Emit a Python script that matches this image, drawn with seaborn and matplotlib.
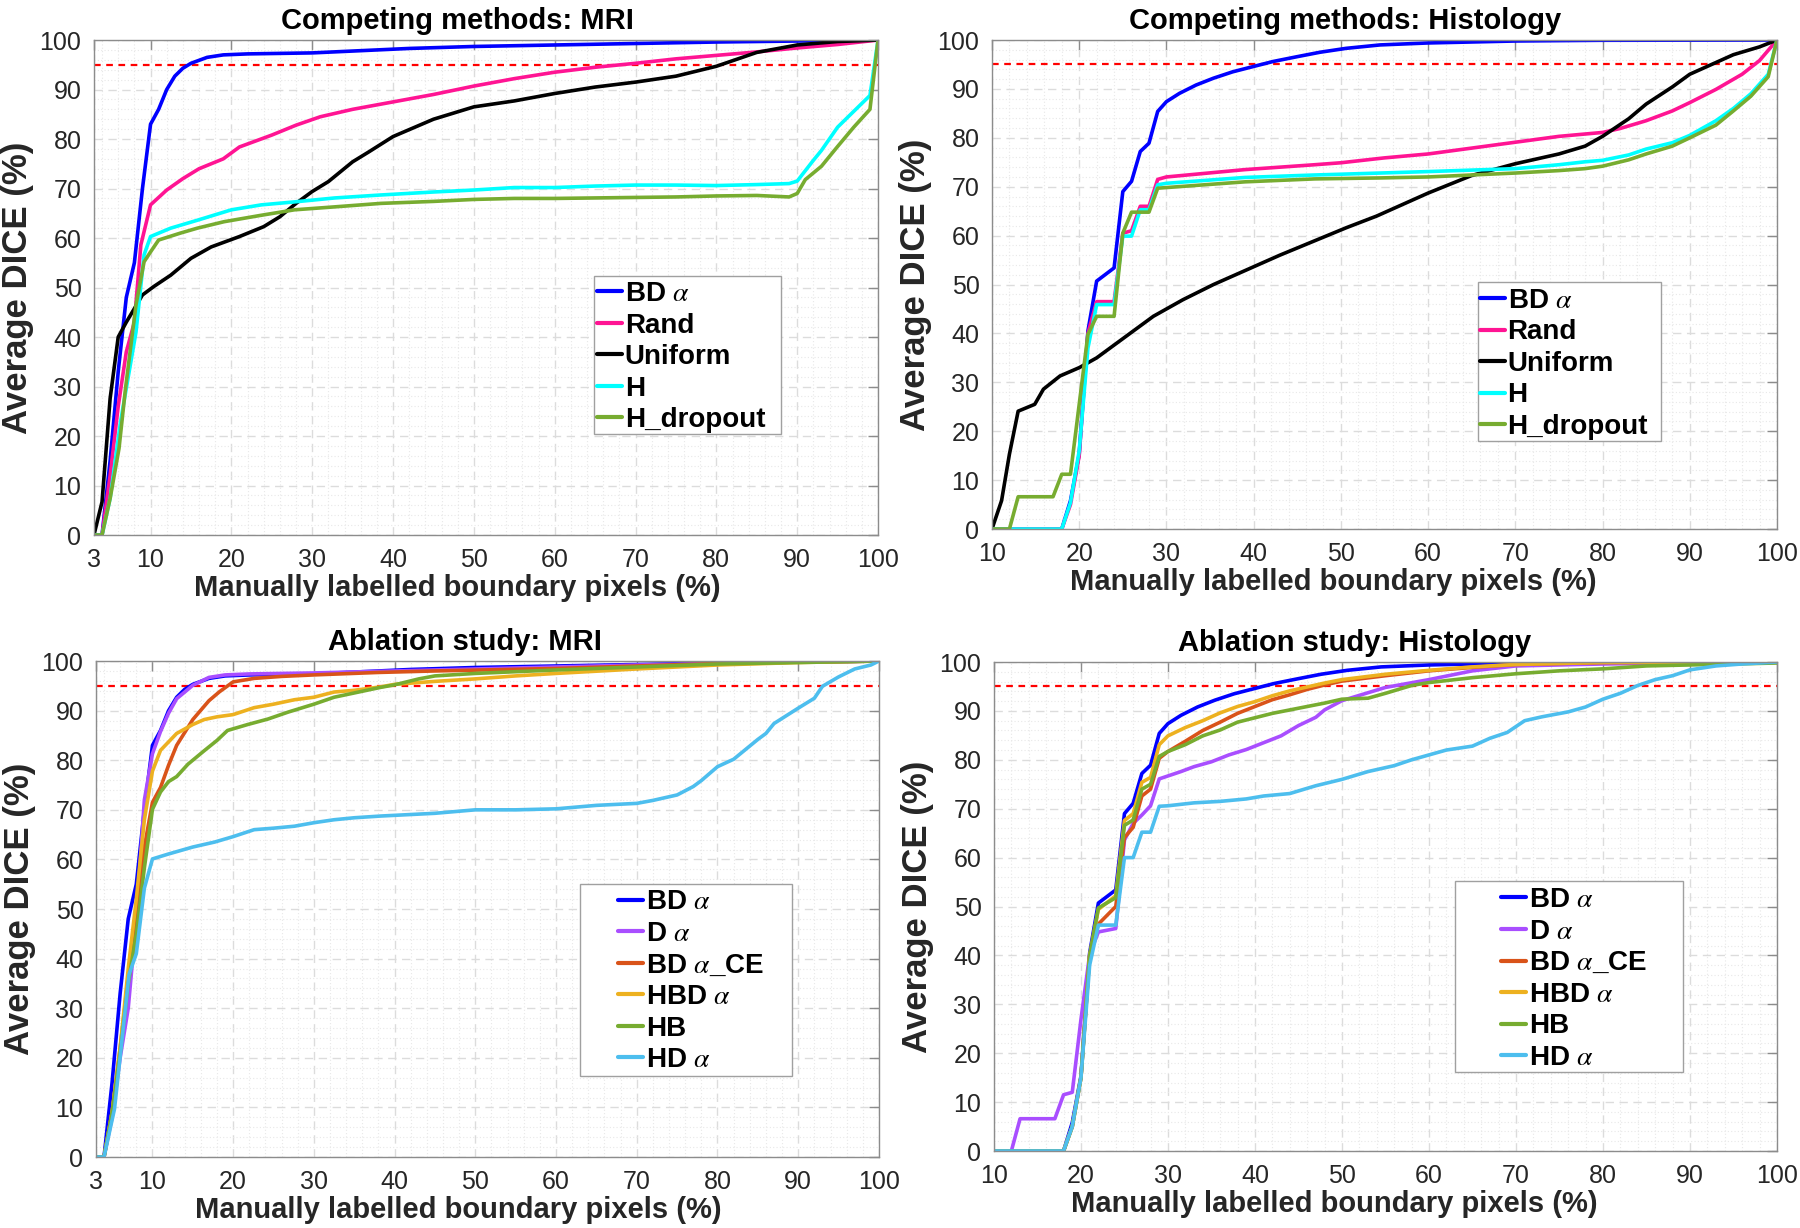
import numpy as np
import pandas as pd
import seaborn as sns
import matplotlib
matplotlib.use('Agg')
import matplotlib.pyplot as plt
from matplotlib.lines import Line2D
from matplotlib.patches import Rectangle
from matplotlib.ticker import MultipleLocator
from matplotlib import font_manager

# ---------------- data ----------------
# Competing methods, MRI
bd_mri_x = [3, 4, 5, 6, 7, 8, 9, 10, 11, 12, 13, 14, 15, 16, 17, 19, 22, 26, 30, 34, 38, 42, 50, 60, 70, 80, 90, 100]
bd_mri_y = [0, 0, 15, 33, 48, 55, 70, 83, 86, 90, 92.7, 94.3, 95.3, 95.9, 96.5, 97, 97.2, 97.3, 97.4, 97.7, 98, 98.3, 98.7, 99, 99.3, 99.6, 99.8, 100]
rand_mri_x = [3, 4, 5, 6, 7, 8, 8.8, 10, 12, 14, 16, 19, 21, 25, 28, 31, 35, 40, 45, 50, 55, 60, 65, 70, 75, 80, 85, 90, 95, 100]
rand_mri_y = [0, 0, 12, 26, 37, 43, 58.6, 66.7, 69.7, 72, 74, 76, 78.4, 80.8, 82.8, 84.5, 86, 87.5, 89, 90.7, 92.2, 93.5, 94.5, 95.3, 96.2, 96.9, 97.6, 98.4, 99.1, 100]
unif_mri_x = [3, 4, 5, 6, 7, 9, 10.4, 12.5, 15, 17.5, 21, 24, 26, 28, 30, 32, 35, 37, 40, 45, 50, 55, 60, 65, 70, 75, 80, 85, 90, 95, 100]
unif_mri_y = [0, 6.7, 27.6, 40, 43, 48.5, 50.2, 52.5, 55.9, 58.2, 60.3, 62.3, 64.3, 67, 69.4, 71.4, 75.4, 77.4, 80.5, 84, 86.5, 87.7, 89.2, 90.5, 91.5, 92.7, 94.7, 97.5, 99, 99.7, 100]
h_mri_x = [3, 4, 5, 6.3, 8.2, 9.2, 10, 12.5, 15.8, 20, 23.7, 27.8, 32.8, 38.5, 45, 50, 55, 60, 65, 70, 75, 80, 85, 89, 90, 91, 92, 93, 95, 97, 99, 100]
h_mri_y = [0, 0, 7.4, 23, 41, 56.6, 60.3, 62, 63.6, 65.7, 66.7, 67.3, 68.1, 68.7, 69.3, 69.7, 70.2, 70.2, 70.5, 70.7, 70.7, 70.6, 70.8, 71, 71.5, 73.6, 75.7, 77.7, 82.4, 85.6, 88.8, 100]
hdrop_mri_x = [3, 4, 5, 6.1, 6.9, 8.2, 9.2, 10, 11, 13.7, 15.8, 19.1, 23.7, 27.8, 32.8, 38.5, 45, 50, 55, 60, 65, 70, 75, 80, 85, 89, 90, 91, 93, 95, 97, 99, 100]
hdrop_mri_y = [0, 0, 7.4, 17.5, 29.6, 46.5, 55.2, 57.2, 59.6, 61, 62, 63.3, 64.6, 65.7, 66.3, 67, 67.4, 67.8, 68, 68, 68.1, 68.2, 68.3, 68.5, 68.6, 68.3, 69, 71.8, 74.5, 78.5, 82.4, 86, 100]

# Ablation study, MRI (BD alpha shared with competing MRI)
da_mri_x = [3, 4, 5, 6, 7, 8, 9, 10, 11, 12, 13, 15, 17, 19, 22, 26, 30, 35, 40, 50, 60, 70, 80, 90, 100]
da_mri_y = [0, 0, 8, 20, 30, 48, 72, 81.3, 85.8, 89.5, 92.4, 95.1, 96.7, 97.2, 97.4, 97.5, 97.6, 97.8, 98, 98.4, 98.8, 99.2, 99.5, 99.8, 100]
bdce_mri_x = [3, 4, 5, 6, 7, 8, 9, 10, 11, 12, 13, 15, 17, 18.3, 20, 22.6, 26, 30, 38, 45, 60, 70, 80, 90, 100]
bdce_mri_y = [0, 0, 9, 22, 36, 48, 62.5, 71.5, 74.5, 79, 83, 88.2, 92, 93.8, 95.8, 96.5, 96.9, 97.2, 97.7, 98, 98.5, 99, 99.5, 99.8, 100]
hbd_mri_x = [3, 4, 5, 6, 7, 8, 9, 10, 11, 13, 15, 16.4, 18, 20, 22.6, 25, 27.6, 30, 32.5, 35, 38.3, 40, 45, 50, 55, 60, 70, 80, 90, 100]
hbd_mri_y = [0, 0, 9, 22, 38, 52, 68, 77.8, 82, 85.4, 87.2, 88.2, 88.75, 89.2, 90.6, 91.3, 92.2, 92.7, 93.75, 94.1, 94.8, 95.3, 95.9, 96.4, 97, 97.5, 98.4, 99.2, 99.7, 100]
hb_mri_x = [3, 4, 5, 6, 7, 8, 9, 10, 11, 12, 13, 14.4, 16.4, 18, 19.3, 21.8, 24.3, 26.8, 30, 32.5, 38.3, 40, 43, 45, 50, 60, 70, 80, 90, 100]
hb_mri_y = [0, 0, 9, 21, 35, 45, 58.3, 70.1, 73.6, 75.7, 76.7, 79.2, 81.9, 84, 86, 87.2, 88.3, 89.7, 91.3, 92.7, 94.7, 95.2, 96.4, 97, 97.5, 98.2, 98.8, 99.4, 99.7, 100]
hda_mri_x = [3, 4, 5.3, 7.1, 8, 9, 10, 12, 15, 17.7, 20, 22.6, 25, 27.6, 30, 32.5, 35, 38.3, 45, 50, 55, 60, 65, 70, 72, 75, 77, 78, 80, 82, 85, 86, 87, 90, 92, 93, 95, 97, 99, 100]
hda_mri_y = [0, 0, 9.7, 36.8, 41, 54.2, 60.1, 61.1, 62.5, 63.5, 64.6, 66, 66.3, 66.7, 67.4, 68, 68.4, 68.75, 69.3, 70, 70, 70.2, 70.9, 71.3, 71.9, 73, 74.7, 75.9, 78.7, 80.2, 84.2, 85.4, 87.4, 90.5, 92.5, 94.9, 96.8, 98.4, 99.2, 100]

# Competing methods, Histology
bd_his_x = [10, 18, 19, 20, 21, 22, 24, 25, 26, 27, 28, 29, 30, 31.5, 33.4, 35.4, 37.6, 40, 42.2, 45, 47.6, 50.6, 54.5, 60, 70, 80, 100]
bd_his_y = [0, 0, 5.8, 15.3, 40.5, 50.7, 53.4, 69, 71.1, 77.2, 78.9, 85.4, 87.4, 89.1, 90.8, 92.2, 93.5, 94.6, 95.6, 96.6, 97.5, 98.3, 99, 99.4, 99.8, 99.95, 100]
rand_his_x = [10, 18, 19, 20, 21, 22, 24, 25, 26, 27, 28, 29, 30, 39, 47, 50, 55, 60, 65, 70, 75, 80, 82, 85, 88, 90, 93, 96, 98, 100]
rand_his_y = [0, 0, 5, 15, 40, 46.5, 46.5, 60.5, 61, 66, 66, 71.5, 72, 73.5, 74.5, 74.9, 75.9, 76.7, 77.9, 79.1, 80.3, 81.1, 81.9, 83.5, 85.5, 87.2, 89.9, 93, 95.8, 100]
unif_his_x = [10, 11.1, 12, 13, 14.9, 15.9, 17.8, 20, 22, 24.6, 28.5, 31.9, 35.4, 39.2, 43, 46.8, 50.6, 54.1, 60, 65, 70, 75, 78, 80, 83, 85, 88, 90, 93, 95, 98, 100]
unif_his_y = [0, 5.8, 15.3, 24.1, 25.5, 28.6, 31.3, 33, 35, 38.4, 43.5, 46.9, 50, 53, 56, 58.8, 61.6, 64, 68.7, 72.3, 74.7, 76.7, 78.3, 80.3, 83.9, 86.9, 90.4, 93, 95.4, 97, 98.6, 100]
h_his_x = [10, 18, 19, 20, 21, 22, 24, 25, 26, 27, 28, 29, 30, 39, 47, 54.5, 60, 65, 70, 75, 78, 80, 83, 85, 88, 90, 93, 95, 97, 99, 100]
h_his_y = [0, 0, 5.4, 16, 37, 45.9, 45.9, 59.9, 59.9, 65.3, 65.3, 70.4, 70.7, 71.9, 72.4, 72.8, 73.1, 73.4, 73.7, 74.5, 75.1, 75.4, 76.5, 77.7, 79, 80.5, 83.5, 86, 89, 93, 100]
hdrop_his_x = [10, 12, 13, 17, 18, 19, 21, 22, 24, 25, 26, 28, 29, 39, 47, 54.5, 60, 65, 70, 75, 78, 80, 83, 85, 88, 90, 93, 95, 97, 99, 100]
hdrop_his_y = [0, 0, 6.6, 6.6, 11.2, 11.2, 39.8, 43.5, 43.5, 60.5, 64.8, 64.8, 69.7, 71, 71.6, 71.8, 72, 72.4, 72.8, 73.3, 73.7, 74.2, 75.5, 76.7, 78.3, 80, 82.6, 85.5, 88.5, 92.5, 100]

# Ablation study, Histology (BD alpha shared with competing histology)
da_his_x = [10, 12, 13, 17, 18, 19, 20, 21, 22, 24, 25, 26, 27, 28, 29, 30, 31.5, 33, 35, 37, 39, 41, 43, 45, 47, 48, 50, 55, 60, 65, 70, 80, 90, 100]
da_his_y = [0, 0, 6.6, 6.6, 11.5, 12, 26.9, 40.2, 44.8, 45.5, 63.6, 67, 68.7, 70.6, 76.1, 76.7, 77.6, 78.6, 79.6, 81, 82.1, 83.5, 84.9, 87, 88.7, 90.2, 92.1, 94.8, 96.4, 98.2, 99.2, 99.6, 99.8, 100]
bdce_his_x = [10, 18, 19, 20, 21, 22, 24, 25, 26, 27, 28, 29, 30, 32, 34, 36, 38, 40, 42, 44, 46, 48, 50, 55, 60, 65, 70, 80, 100]
bdce_his_y = [0, 0, 5, 15, 40, 46.4, 50, 64.1, 66.2, 72.6, 74, 80.3, 81.7, 83.8, 86, 87.7, 89.5, 90.9, 92.3, 93.3, 94.4, 95.3, 96.1, 97.2, 98.2, 98.9, 99.5, 99.9, 100]
hbd_his_x = [10, 18, 19, 20, 21, 22, 24, 25, 26, 27, 28, 29, 30, 32, 34, 36, 38, 40, 42, 44, 46, 48, 50, 55, 60, 65, 70, 80, 100]
hbd_his_y = [0, 0, 5, 15, 40, 49.4, 52.2, 67.6, 69, 75.4, 76.4, 83.1, 84.9, 86.6, 88, 89.6, 90.9, 91.9, 93.1, 94.1, 94.9, 95.7, 96.4, 97.5, 98.3, 99, 99.5, 99.9, 100]
hb_his_x = [10, 18, 19, 20, 21, 22, 24, 25, 26, 27, 28, 29, 30, 32, 34, 36, 38, 40, 42, 44, 46, 48, 50, 53, 55, 58, 60, 65, 70, 75, 80, 85, 90, 95, 100]
hb_his_y = [0, 0, 5, 15, 40, 49.7, 51.8, 66.6, 67.7, 74, 75, 80.7, 81.7, 83.1, 84.9, 86.1, 87.7, 88.6, 89.5, 90.2, 90.9, 91.6, 92.4, 92.6, 93.6, 95.2, 95.8, 96.8, 97.6, 98.2, 98.6, 99.2, 99.4, 99.6, 99.8]
hda_his_x = [10, 18, 19, 20, 21, 22, 24, 25, 26, 27, 28, 29, 30, 33, 36, 39, 41, 44, 47, 50, 53, 56, 58, 60, 62, 65, 67, 69, 70, 71, 73, 76, 78, 80, 82, 84, 86, 88, 90, 93, 96, 100]
hda_his_y = [0, 0, 5, 15, 38, 46.2, 46.2, 60, 60, 65.2, 65.2, 70.5, 70.6, 71.2, 71.5, 72, 72.6, 73.1, 74.7, 76, 77.6, 78.8, 80, 81, 82, 82.8, 84.4, 85.6, 86.8, 88, 88.8, 89.8, 90.8, 92.4, 93.6, 95.2, 96.4, 97.2, 98.4, 99.2, 99.6, 100]

mri_xticks = [3, 10, 20, 30, 40, 50, 60, 70, 80, 90, 100]
his_xticks = [10, 20, 30, 40, 50, 60, 70, 80, 90, 100]
yticks = list(range(0, 101, 10))

colors = {
    'BD $\\alpha$': '#0000ff',
    'Rand': '#ff1493',
    'Uniform': '#000000',
    'H': '#00ffff',
    'H_dropout': '#77ac30',
    'D $\\alpha$': '#a94eff',
    'BD $\\alpha$_CE': '#d95319',
    'HBD $\\alpha$': '#edb120',
    'HB': '#77ac30',
    'HD $\\alpha$': '#4dbeee',
}

# rect: axes position (fig fraction); box: legend frame (axes fraction x0, x1, ybottom, ytop)
# entry: (x of first handle, y of first row centre) in axes fraction
panels = [
    dict(title='Competing methods: MRI', xlim=(3, 100), xticks=mri_xticks,
         rect=[0.0522, 0.5643, 0.4356, 0.4031], tx=0.463, lx=0.463,
         box=(0.638, 0.876, 0.204, 0.524), entry=(0.6416, 0.489),
         series=[('BD $\\alpha$', bd_mri_x, bd_mri_y), ('Rand', rand_mri_x, rand_mri_y),
                 ('Uniform', unif_mri_x, unif_mri_y), ('H', h_mri_x, h_mri_y),
                 ('H_dropout', hdrop_mri_x, hdrop_mri_y)]),
    dict(title='Competing methods: Histology', xlim=(10, 100), xticks=his_xticks,
         rect=[0.5511, 0.5692, 0.4361, 0.3982], tx=0.45, lx=0.435,
         box=(0.6186, 0.8526, 0.180, 0.5043), entry=(0.6214, 0.469),
         series=[('BD $\\alpha$', bd_his_x, bd_his_y), ('Rand', rand_his_x, rand_his_y),
                 ('Uniform', unif_his_x, unif_his_y), ('H', h_his_x, h_his_y),
                 ('H_dropout', hdrop_his_x, hdrop_his_y)]),
    dict(title='Ablation study: MRI', xlim=(3, 100), xticks=mri_xticks,
         rect=[0.0533, 0.0578, 0.435, 0.4039], tx=0.471, lx=0.463,
         box=(0.6179, 0.8891, 0.1637, 0.5504), entry=(0.667, 0.5155),
         series=[('BD $\\alpha$', bd_mri_x, bd_mri_y), ('D $\\alpha$', da_mri_x, da_mri_y),
                 ('BD $\\alpha$_CE', bdce_mri_x, bdce_mri_y), ('HBD $\\alpha$', hbd_mri_x, hbd_mri_y),
                 ('HB', hb_mri_x, hb_mri_y), ('HD $\\alpha$', hda_mri_x, hda_mri_y)]),
    dict(title='Ablation study: Histology', xlim=(10, 100), xticks=his_xticks,
         rect=[0.5522, 0.0627, 0.435, 0.3982], tx=0.46, lx=0.435,
         box=(0.5882, 0.880, 0.161, 0.553), entry=(0.6475, 0.515),
         series=[('BD $\\alpha$', bd_his_x, bd_his_y), ('D $\\alpha$', da_his_x, da_his_y),
                 ('BD $\\alpha$_CE', bdce_his_x, bdce_his_y), ('HBD $\\alpha$', hbd_his_x, hbd_his_y),
                 ('HB', hb_his_x, hb_his_y), ('HD $\\alpha$', hda_his_x, hda_his_y)]),
]

# ---------------- style ----------------
sns.set_style('white')
installed = {f.name for f in font_manager.fontManager.ttflist}
narrow = 'Liberation Sans Narrow' if 'Liberation Sans Narrow' in installed else 'Liberation Sans'
plt.rcParams['font.family'] = [narrow, 'DejaVu Sans']
plt.rcParams['mathtext.fontset'] = 'stix'

axis_grey = '#8c8c8c'
text_col = '#262626'
W, H = 1800, 1228

fig = plt.figure(figsize=(W / 100, H / 100), dpi=100)

for p in panels:
    ax = fig.add_axes(p['rect'])
    frames = [pd.DataFrame({'x': sx, 'y': sy, 'method': name}) for name, sx, sy in p['series']]
    df = pd.concat(frames, ignore_index=True)
    order = [s[0] for s in p['series']]
    sns.lineplot(data=df, x='x', y='y', hue='method', hue_order=order,
                 palette={k: colors[k] for k in order}, estimator=None, sort=False,
                 lw=2.6, legend=False, ax=ax)
    ax.axhline(95, color='#ff0000', ls=(0, (3, 2.5)), lw=1.6, zorder=1)

    ax.set_xlim(*p['xlim'])
    ax.set_ylim(0, 100)
    ax.set_xticks(p['xticks'])
    ax.set_yticks(yticks)
    ax.xaxis.set_minor_locator(MultipleLocator(2))
    ax.yaxis.set_minor_locator(MultipleLocator(2))
    ax.grid(which='major', color='#dcdcdc', ls=(0, (6, 4)), lw=1.0)
    ax.grid(which='minor', color='#e8e8e8', ls=(0, (1, 2)), lw=0.8)
    ax.set_axisbelow(True)
    ax.tick_params(which='major', direction='in', top=True, right=True, length=7,
                   width=1, color=axis_grey, labelsize=18, labelcolor=text_col, pad=9)
    ax.tick_params(which='minor', length=0)
    for sp in ax.spines.values():
        sp.set_color(axis_grey)
        sp.set_linewidth(1.0)

    ax.set_title(p['title'], fontsize=21, fontweight='bold', color='#000000', pad=8, x=p['tx'])
    ax.set_xlabel('Manually labelled boundary pixels (%)', fontsize=21, fontweight='bold',
                  color=text_col, labelpad=2, x=p['lx'])
    ax.set_ylabel('Average DICE (%)', fontsize=25, fontweight='bold', color=text_col,
                  family=['Liberation Sans', 'DejaVu Sans'], labelpad=4)

    # legend frame drawn as a plain box, entries placed inside it
    bx0, bx1, by0, by1 = p['box']
    ax.add_patch(Rectangle((bx0, by0), bx1 - bx0, by1 - by0, transform=ax.transAxes,
                           fc='white', ec='#a0a0a0', lw=1.0, zorder=4, clip_on=False))
    ax_h_px = p['rect'][3] * H
    ex, ey = p['entry']
    handles = [Line2D([], [], color=colors[n], lw=3) for n in order]
    leg = ax.legend(handles, order, loc='upper left', bbox_to_anchor=(ex, ey + 12.0 / ax_h_px),
                    borderaxespad=0, borderpad=0, frameon=False, handlelength=0.9,
                    handletextpad=0.1, labelspacing=0.2,
                    prop={'family': [narrow, 'DejaVu Sans'], 'weight': 'bold', 'size': 20})
    leg.set_zorder(5)
    for t in leg.get_texts():
        t.set_color('#000000')

fig.savefig('out.png', dpi=100)
